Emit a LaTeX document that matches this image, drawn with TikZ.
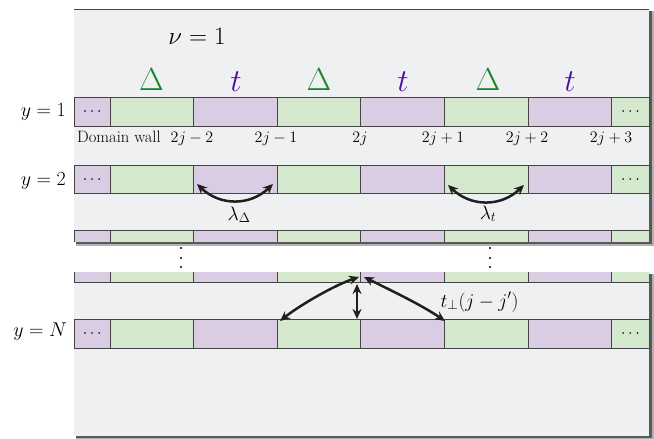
\RequirePackage{fix-cm}
\documentclass[tikz,border=0pt]{standalone}
\usetikzlibrary{arrows.meta}
\definecolor{panelbg}{HTML}{EFF0F2}
\definecolor{cgreen}{HTML}{D3E8CD}
\definecolor{cpurple}{HTML}{D9CCE3}
\definecolor{edgec}{HTML}{454545}
\definecolor{dgreen}{HTML}{17862E}
\definecolor{dpurple}{HTML}{4B10A3}
\tikzset{
  cellbox/.style={draw=edgec, line width=0.8pt, inner sep=0pt, minimum height=#1, anchor=north west},
  arr/.style={{Stealth[length=10pt,width=9pt]}-{Stealth[length=10pt,width=9pt]}, line width=2.5pt, draw=black!88},
  rowlbl/.style={font=\fontsize{20}{24}\selectfont, anchor=base east, inner sep=0pt},
  idx/.style={font=\fontsize{16}{19}\selectfont, anchor=base, inner sep=0pt},
  big/.style={font=\fontsize{32}{36}\selectfont, anchor=base, inner sep=0pt},
  hop/.style={font=\fontsize{19.5}{23}\selectfont, anchor=base, inner sep=0pt},
  dotsl/.style={font=\fontsize{16}{19}\selectfont, inner sep=0pt},
}
\newcommand\cellrow[3]{% #1 name prefix, #2 top, #3 height
  \foreach \i/\a/\b/\c in {0/74/109.5/cpurple,1/109.5/193.1/cgreen,2/193.1/276.7/cpurple,3/276.7/360.3/cgreen,4/360.3/443.9/cpurple,5/443.9/527.5/cgreen,6/527.5/611.1/cpurple,7/611.1/649/cgreen}{
    \pgfmathsetmacro\w{\b-\a}
    \node[cellbox=#3 pt, fill=\c, minimum width=\w pt] (#1c\i) at (\a,#2) {};
  }}
\begin{document}
\begin{tikzpicture}[x=1pt,y=-1pt]
\useasboundingbox (0,0) rectangle (654,439);
% panel shadows
\fill[black!30] (76,11) rectangle (653.5,245.5);
\fill[black!65] (75.5,10.5) rectangle (652,244);
\fill[black!30] (76,274) rectangle (653.5,439);
\fill[black!65] (75.5,273.5) rectangle (652,438);
% panels
\fill[panelbg] (74,9) rectangle (649,241);
\fill[panelbg] (74,272) rectangle (649,436);
\draw[edgec, line width=0.9pt] (74,9) -- (649,9);
% top panel rows
\cellrow{ra}{97}{29}
\cellrow{rb}{165}{28.3}
\begin{scope}
  \clip (74,9) rectangle (649,241);
  \cellrow{rc}{230}{30}
\end{scope}
% bottom panel rows
\begin{scope}
  \clip (74,272) rectangle (649,436);
  \cellrow{rd}{252}{30}
\end{scope}
\cellrow{rn}{319}{28.5}
% dots in end cells
\foreach \r in {ra,rb,rn}{
  \node[dotsl] at (\r c0) {$\cdots$};
  \node[dotsl] at (\r c7) {$\cdots$};
}
% titles
\node[font=\fontsize{25}{30}\selectfont, anchor=base, inner sep=0pt] (nu) at (197,44) {$\nu=1$};
\node[big, text=dgreen] (D1) at (151.5,90) {$\Delta$};
\node[big, text=dpurple] (T1) at (236,91) {$t$};
\node[big, text=dgreen] (D2) at (319,90) {$\Delta$};
\node[big, text=dpurple] (T2) at (403,91) {$t$};
\node[big, text=dgreen] (D3) at (488,90) {$\Delta$};
\node[big, text=dpurple] (T3) at (570,91) {$t$};
% row labels
\node[rowlbl] (l1) at (66,116.5) {$y=1$};
\node[rowlbl] (l2) at (66,185) {$y=2$};
\node[rowlbl] (lN) at (67,336.5) {$y=N$};
% index labels
\node[idx, anchor=base west, font=\fontsize{16.5}{19}\selectfont] (dw) at (77,142.5) {Domain wall};
\node[idx] (i1) at (192,142.5) {$2j-2$};
\node[idx] (i2) at (276,142.5) {$2j-1$};
\node[idx] (i3) at (360,142.5) {$2j$};
\node[idx] (i4) at (443,142.5) {$2j+1$};
\node[idx] (i5) at (527,142.5) {$2j+2$};
\node[idx] (i6) at (611,142.5) {$2j+3$};
% vertical dots
\foreach \x in {181,490}{
  \foreach \y in {248,258,267}{
    \fill[black] (\x,\y) circle (1.1pt);
  }
}
% arrow end points
\coordinate (a1) at (197,184);
\coordinate (a2) at (273,184);
\coordinate (b1) at (448,185);
\coordinate (b2) at (524,185);
\coordinate (p0) at (359,277);
\coordinate (p1) at (364,277);
\coordinate (pv) at (357,284);
\coordinate (qL) at (280,321);
\coordinate (qV) at (357,319);
\coordinate (qR) at (445,321);
\draw[arr] (a1) .. controls (220,206) and (250,206) .. (a2);
\draw[arr] (b1) .. controls (471,207) and (501,207) .. (b2);
\draw[arr] (p0) .. controls (335,285) and (300,305) .. (qL);
\draw[arr] (p1) .. controls (388,289) and (420,304) .. (qR);
\draw[arr] (pv) -- (qV);
% hopping labels
\node[hop] (lD) at (239,220) {$\lambda_\Delta$};
\node[hop] (lt) at (488,219) {$\lambda_t$};
\node[hop] (tp) at (479.5,307) {$t_\perp(j-j')$};
\end{tikzpicture}
\end{document}
